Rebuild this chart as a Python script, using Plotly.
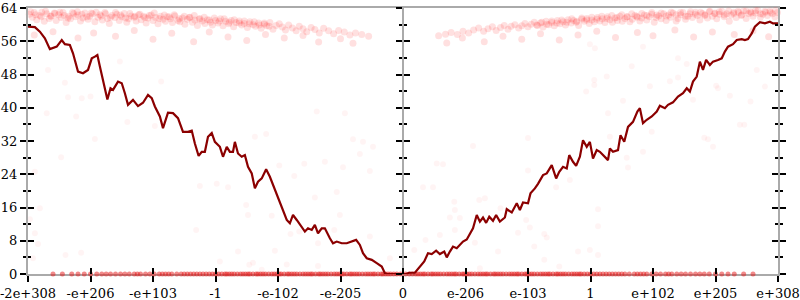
import plotly.graph_objects as go

FONT = "DejaVu Serif"

# x axis tick positions / labels (ordered float-space axis)
tick_vals = list(range(-6, 7))
tick_text = ["-2e+308", "-e+206", "-e+103", "-1", "-e-102", "-e-205", "0",
             "e-206", "e-103", "1", "e+102", "e+205", "e+308"]
y_ticks = [0, 8, 16, 24, 32, 40, 48, 56, 64]

# dark red walk line (x, y)
line_pts = [
    (-6.00, 59.5), (-5.89, 59.4), (-5.81, 58.3), (-5.73, 56.7), (-5.65, 54.1), (-5.60, 54.3),
    (-5.54, 54.7), (-5.46, 56.3), (-5.41, 55.3), (-5.33, 55.1), (-5.28, 53.1), (-5.20, 48.7),
    (-5.12, 48.3), (-5.04, 49.1), (-4.98, 51.9), (-4.93, 52.3), (-4.89, 52.7), (-4.85, 49.9),
    (-4.80, 46.3), (-4.73, 42.0), (-4.68, 44.7), (-4.64, 44.3), (-4.56, 46.3), (-4.50, 45.9),
    (-4.45, 43.5), (-4.40, 40.7), (-4.32, 41.9), (-4.24, 40.4), (-4.16, 41.2), (-4.08, 43.1),
    (-4.02, 42.3), (-3.97, 40.3), (-3.89, 37.9), (-3.84, 35.1), (-3.76, 38.8), (-3.68, 38.7),
    (-3.60, 37.5), (-3.52, 34.2), (-3.44, 34.2), (-3.38, 34.5), (-3.33, 31.4), (-3.27, 28.4),
    (-3.22, 29.4), (-3.17, 29.4), (-3.12, 33.0), (-3.06, 33.9), (-3.01, 31.8), (-2.93, 30.6),
    (-2.88, 28.2), (-2.82, 30.6), (-2.77, 29.4), (-2.72, 29.4), (-2.69, 31.8), (-2.64, 29.0),
    (-2.58, 28.2), (-2.53, 28.6), (-2.48, 25.8), (-2.42, 24.2), (-2.37, 20.6), (-2.32, 22.2),
    (-2.26, 23.0), (-2.19, 25.2), (-2.13, 23.4), (-2.05, 20.2), (-2.00, 18.2), (-1.94, 15.8),
    (-1.86, 13.0), (-1.81, 12.2), (-1.76, 14.2), (-1.70, 13.0), (-1.62, 11.4), (-1.57, 10.2),
    (-1.52, 11.0), (-1.46, 10.6), (-1.41, 11.8), (-1.36, 9.8), (-1.30, 11.0), (-1.25, 11.0),
    (-1.17, 8.6), (-1.12, 7.4), (-1.06, 7.8), (-0.98, 7.4), (-0.90, 7.4), (-0.82, 7.8),
    (-0.75, 8.2), (-0.69, 7.0), (-0.64, 5.0), (-0.58, 3.8), (-0.50, 3.4), (-0.42, 2.6),
    (-0.34, 1.8), (-0.29, 0.2), (-0.26, 0.0), (0.05, 0.0), (0.10, 0.3), (0.19, 0.3),
    (0.27, 1.8), (0.34, 3.0), (0.40, 5.0), (0.46, 4.8), (0.53, 5.6), (0.59, 4.8),
    (0.66, 5.4), (0.70, 4.0), (0.75, 5.4), (0.80, 6.6), (0.86, 6.2), (0.91, 7.0),
    (0.96, 7.8), (1.02, 8.3), (1.07, 9.8), (1.12, 11.0), (1.18, 14.2), (1.23, 12.6),
    (1.28, 13.6), (1.33, 12.3), (1.38, 13.8), (1.44, 12.8), (1.49, 14.2), (1.55, 12.6),
    (1.63, 13.6), (1.66, 15.6), (1.74, 14.8), (1.82, 17.0), (1.87, 15.4), (1.92, 17.2),
    (2.00, 17.0), (2.04, 19.4), (2.11, 20.6), (2.16, 21.7), (2.24, 23.8), (2.30, 24.2),
    (2.38, 26.2), (2.45, 23.0), (2.50, 24.6), (2.56, 25.8), (2.62, 25.4), (2.66, 28.6),
    (2.72, 27.0), (2.77, 26.0), (2.83, 28.2), (2.88, 32.2), (2.94, 30.6), (2.99, 31.8),
    (3.04, 27.8), (3.10, 29.8), (3.15, 29.4), (3.20, 28.6), (3.28, 27.4), (3.31, 30.2),
    (3.36, 29.4), (3.44, 29.8), (3.48, 33.4), (3.54, 31.8), (3.60, 35.4), (3.68, 36.6),
    (3.75, 39.1), (3.79, 39.9), (3.84, 36.3), (3.90, 37.1), (3.98, 37.9), (4.06, 39.1),
    (4.11, 40.5), (4.19, 39.9), (4.24, 40.7), (4.32, 41.3), (4.40, 42.7), (4.48, 43.5),
    (4.54, 44.7), (4.59, 43.9), (4.64, 46.3), (4.70, 47.5), (4.75, 51.1), (4.80, 49.1),
    (4.85, 51.5), (4.91, 50.3), (4.96, 51.1), (5.04, 51.5), (5.10, 51.9), (5.15, 53.5),
    (5.20, 54.7), (5.28, 55.3), (5.34, 56.3), (5.42, 56.5), (5.47, 56.3), (5.52, 56.5),
    (5.58, 57.9), (5.63, 59.5), (5.71, 60.6), (5.79, 60.3), (5.87, 60.7), (5.92, 60.3),
    (6.00, 60.3),
]

# faint dots: dense band near the top (left half)
band_left = [
    (-5.98, 62.5), (-5.93, 61.8), (-5.90, 62.9), (-5.86, 61.2), (-5.81, 62.2), (-5.78, 63.0),
    (-5.74, 60.8), (-5.70, 62.6), (-5.66, 61.5), (-5.63, 62.1), (-5.58, 62.8), (-5.55, 61.0),
    (-5.51, 62.4), (-5.47, 61.7), (-5.44, 62.9), (-5.39, 60.5), (-5.35, 62.0), (-5.32, 61.4),
    (-5.27, 62.7), (-5.24, 61.9), (-5.20, 62.3), (-5.16, 60.9), (-5.12, 61.6), (-5.09, 62.8),
    (-5.04, 61.3), (-5.01, 62.0), (-4.97, 62.6), (-4.93, 60.7), (-4.88, 61.8), (-4.85, 62.4),
    (-4.81, 61.1), (-4.77, 62.9), (-4.73, 61.5), (-4.70, 60.3), (-4.66, 62.2), (-4.61, 61.7),
    (-4.58, 62.5), (-4.54, 61.0), (-4.50, 61.9), (-4.46, 62.7), (-4.42, 60.6), (-4.39, 61.4),
    (-4.35, 62.1), (-4.30, 61.8), (-4.27, 60.9), (-4.23, 62.4), (-4.19, 61.2), (-4.15, 62.0),
    (-4.11, 60.4), (-4.08, 61.6), (-4.03, 62.3), (-4.00, 61.0), (-3.96, 61.7), (-3.92, 60.2),
    (-3.88, 62.0), (-3.84, 61.3), (-3.80, 60.8), (-3.77, 61.9), (-3.72, 61.4), (-3.69, 60.5),
    (-3.65, 62.1), (-3.60, 61.0), (-3.57, 60.7), (-3.53, 61.6), (-3.49, 60.1), (-3.45, 61.3),
    (-3.41, 61.8), (-3.37, 60.6), (-3.33, 61.1), (-3.29, 59.8), (-3.25, 61.5), (-3.21, 60.9),
    (-3.17, 60.3), (-3.13, 61.2), (-3.08, 60.6), (-3.05, 59.9), (-3.00, 61.0), (-2.96, 60.4),
    (-2.92, 61.4), (-2.88, 59.7), (-2.84, 60.8), (-2.79, 60.2), (-2.75, 61.0), (-2.71, 59.5),
    (-2.67, 60.5), (-2.62, 60.9), (-2.58, 59.9), (-2.54, 60.3), (-2.49, 59.3), (-2.45, 60.7),
    (-2.40, 60.0), (-2.36, 59.6), (-2.31, 60.4), (-2.27, 59.1), (-2.22, 60.1), (-2.18, 59.7),
    (-2.13, 60.5), (-2.08, 58.9), (-2.03, 59.8), (-1.98, 60.2), (-1.93, 59.4), (-1.88, 58.7),
    (-1.83, 59.9), (-1.77, 59.2), (-1.71, 58.5), (-1.66, 59.6), (-1.60, 59.0), (-1.54, 58.3),
    (-1.47, 59.3), (-1.41, 58.8), (-1.34, 58.0), (-1.27, 59.1), (-1.19, 58.5), (-1.11, 57.8),
    (-1.03, 58.6), (-0.94, 58.2), (-0.85, 57.5), (-0.76, 58.0), (-0.66, 57.6), (-0.55, 57.2),
    (-5.96, 63.1), (-5.88, 62.4), (-5.79, 61.9), (-5.72, 63.2), (-5.64, 62.0), (-5.57, 62.7),
    (-5.49, 63.0), (-5.42, 62.2), (-5.36, 61.6), (-5.29, 62.9), (-5.21, 63.1), (-5.14, 62.5),
    (-5.06, 61.9), (-4.99, 62.8), (-4.91, 63.0), (-4.83, 62.1), (-4.76, 62.6), (-4.68, 61.8),
    (-4.60, 62.9), (-4.52, 62.3), (-4.44, 61.6), (-4.37, 62.7), (-4.29, 62.0), (-4.21, 62.5),
    (-4.13, 61.7), (-4.06, 62.2), (-3.98, 62.8), (-3.90, 61.5), (-3.82, 62.3), (-3.74, 61.9),
    (-3.66, 62.4), (-3.58, 61.4), (-3.50, 62.0), (-3.42, 61.7), (-3.34, 62.2), (-3.26, 61.3),
    (-3.18, 61.8), (-3.10, 61.1), (-3.02, 61.6), (-2.94, 60.9), (-2.86, 61.4), (-2.78, 60.6),
    (-2.70, 61.2), (-2.62, 60.4), (-2.54, 60.9), (-2.46, 60.2), (-2.38, 60.7), (-2.30, 59.9),
    (-2.22, 60.4), (-2.14, 59.6),
    (-5.90, 57.5), (-5.60, 58.3), (-5.20, 56.8), (-4.95, 58.0), (-4.60, 57.2), (-4.30, 58.6),
    (-4.00, 56.5), (-3.70, 57.9), (-3.35, 55.9), (-3.10, 58.2), (-2.80, 57.0), (-2.50, 56.2),
    (-2.20, 57.6), (-1.90, 56.8), (-1.60, 57.4), (-1.35, 55.8), (-1.00, 56.6), (-0.80, 55.5),
]

# faint dots: dense band near the top (right half)
band_right = [
    (0.57, 57.3), (0.68, 57.7), (0.77, 58.1), (0.87, 57.6), (0.96, 58.4), (1.05, 58.0),
    (1.13, 58.7), (1.21, 59.2), (1.29, 58.4), (1.36, 59.0), (1.43, 59.5), (1.49, 58.6),
    (1.56, 59.3), (1.62, 59.8), (1.68, 58.9), (1.73, 59.6), (1.79, 60.0), (1.85, 59.2),
    (1.90, 59.7), (1.95, 60.3), (2.00, 59.5), (2.05, 60.1), (2.10, 60.6), (2.15, 59.8),
    (2.20, 60.4), (2.24, 59.4), (2.29, 60.8), (2.33, 60.0), (2.38, 60.5), (2.42, 59.7),
    (2.47, 61.0), (2.51, 60.2), (2.56, 60.7), (2.60, 59.9), (2.64, 61.2), (2.69, 60.4),
    (2.73, 61.0), (2.77, 60.6), (2.81, 59.8), (2.86, 61.3), (2.90, 60.8), (2.94, 61.5),
    (2.98, 60.3), (3.02, 61.1), (3.06, 60.7), (3.11, 61.7), (3.15, 60.9), (3.19, 61.4),
    (3.23, 60.5), (3.27, 61.9), (3.31, 61.2), (3.35, 60.6), (3.39, 61.6), (3.43, 61.0),
    (3.47, 62.0), (3.51, 60.8), (3.55, 61.5), (3.59, 61.9), (3.63, 60.7), (3.67, 61.3),
    (3.71, 62.2), (3.75, 61.8), (3.79, 60.9), (3.82, 61.6), (3.86, 62.3), (3.90, 61.1),
    (3.94, 61.9), (3.98, 62.5), (4.02, 60.6), (4.05, 61.7), (4.09, 62.1), (4.13, 61.4),
    (4.17, 62.6), (4.21, 61.0), (4.25, 62.3), (4.28, 61.8), (4.32, 62.8), (4.37, 60.9),
    (4.40, 61.5), (4.44, 62.4), (4.48, 62.9), (4.52, 61.3), (4.56, 62.0), (4.59, 62.6),
    (4.63, 61.7), (4.68, 63.0), (4.71, 62.2), (4.75, 61.1), (4.79, 62.7), (4.83, 62.4),
    (4.87, 61.6), (4.90, 63.1), (4.95, 62.0), (4.99, 62.8), (5.02, 61.4), (5.06, 62.5),
    (5.10, 63.2), (5.14, 61.9), (5.18, 62.6), (5.22, 60.8), (5.25, 62.3), (5.29, 63.0),
    (5.33, 61.7), (5.37, 62.9), (5.41, 62.2), (5.45, 63.3), (5.49, 61.5), (5.53, 62.7),
    (5.56, 63.1), (5.60, 62.0), (5.64, 62.8), (5.68, 63.4), (5.72, 61.8), (5.76, 62.5),
    (5.80, 63.0), (5.83, 62.2), (5.87, 63.3), (5.91, 62.6), (5.95, 61.9), (5.99, 62.9),
    (2.14, 59.9), (2.22, 60.6), (2.30, 60.1), (2.38, 60.9), (2.46, 60.4), (2.54, 61.1),
    (2.62, 60.6), (2.70, 61.4), (2.78, 60.8), (2.86, 61.6), (2.94, 61.1), (3.02, 61.8),
    (3.10, 61.3), (3.18, 62.0), (3.26, 61.5), (3.34, 62.2), (3.42, 61.7), (3.50, 62.4),
    (3.58, 61.9), (3.66, 62.6), (3.74, 62.0), (3.82, 62.7), (3.90, 62.2), (3.98, 62.9),
    (4.06, 62.3), (4.13, 62.8), (4.21, 62.1), (4.29, 63.0), (4.37, 62.4), (4.44, 62.9),
    (4.52, 62.0), (4.60, 63.1), (4.68, 62.5), (4.76, 63.0), (4.83, 62.2), (4.91, 63.2),
    (4.99, 62.6), (5.06, 63.1), (5.14, 62.3), (5.21, 63.3), (5.29, 62.7), (5.36, 63.2),
    (5.42, 62.4), (5.49, 63.3), (5.57, 62.8), (5.64, 63.4), (5.72, 62.6), (5.79, 63.2),
    (5.88, 62.9), (5.96, 63.4),
    (0.70, 55.6), (0.95, 56.8), (1.30, 55.9), (1.60, 57.2), (1.90, 56.5), (2.20, 57.8),
    (2.50, 56.3), (2.80, 57.5), (3.10, 58.4), (3.40, 56.9), (3.75, 58.1), (4.00, 57.3),
    (4.35, 58.7), (4.65, 57.0), (4.95, 58.2), (5.30, 57.6), (5.60, 58.5), (5.85, 57.1),
]

# faint dots scattered over the plot
sparse_pts = [
    (-5.70, 38.7), (-5.23, 37.9), (-4.93, 32.5), (-5.47, 28.1), (-5.89, 24.6), (-5.81, 15.8),
    (-5.97, 13.2), (-5.89, 9.8), (-5.84, 7.2), (-5.40, 4.6), (-5.15, 5.1), (-5.92, 3.8),
    (-5.68, 49.1), (-5.41, 46.0), (-5.36, 42.5), (-5.14, 42.3), (-5.00, 42.7), (-4.53, 51.1),
    (-4.41, 36.6), (-3.87, 46.3), (-3.97, 35.6), (-1.38, 39.1), (-0.93, 38.7), (-2.37, 33.0),
    (-2.19, 33.7), (-0.80, 32.4), (-0.64, 31.8), (-0.48, 30.6), (-0.69, 28.9), (-1.25, 27.0),
    (-1.58, 26.5), (-1.98, 26.1), (-0.96, 25.7), (-0.53, 24.8), (-1.74, 23.6), (-2.98, 21.7),
    (-2.80, 20.9), (-3.25, 21.2), (-1.41, 18.4), (-1.06, 19.7), (-2.51, 16.6), (-2.48, 14.2),
    (-2.10, 14.0), (-1.01, 14.2), (-3.31, 10.6), (-1.80, 9.6), (-1.66, 10.2), (-1.10, 10.6),
    (-0.53, 9.0), (-1.36, 7.4), (-2.64, 5.4), (-2.05, 5.6), (-2.93, 3.0), (-2.46, 2.2),
    (-2.40, 2.7), (-1.86, 2.3), (-1.36, 1.9), (-0.21, 3.8), (-2.26, 1.0),
    (1.12, 30.8), (0.54, 26.6), (0.64, 26.4), (2.00, 32.7), (2.00, 24.9), (0.32, 20.9),
    (0.48, 20.9), (1.22, 17.8), (1.31, 18.2), (0.82, 17.4), (0.83, 15.4), (0.75, 13.6),
    (0.91, 13.5), (1.56, 15.8), (1.97, 13.0), (2.03, 11.2), (2.67, 22.6), (2.45, 20.9),
    (3.12, 15.6), (3.12, 11.5), (0.83, 10.6), (0.59, 9.4), (0.36, 8.2), (1.84, 9.9),
    (2.26, 9.6), (2.30, 8.8), (1.15, 7.5), (2.10, 6.6), (0.18, 5.8), (1.52, 5.4),
    (2.99, 5.8), (2.80, 5.4), (3.12, 4.6), (2.26, 3.4), (2.50, 1.8), (1.23, 1.4),
    (2.99, 55.3), (3.07, 54.3), (3.84, 54.7), (4.40, 51.9), (4.54, 50.5), (3.66, 50.0),
    (5.66, 49.1), (3.26, 47.5), (4.40, 47.3), (3.06, 46.7), (3.06, 45.5), (3.95, 45.2),
    (5.01, 45.3), (5.04, 44.7), (5.79, 45.1), (4.27, 46.4), (5.23, 42.9), (4.64, 41.9),
    (5.56, 41.5), (3.52, 41.7), (2.93, 43.9), (3.28, 38.7), (5.39, 35.9), (5.46, 35.9),
    (3.98, 34.2), (3.31, 33.0), (4.82, 32.8), (4.88, 32.4), (4.96, 30.6), (3.84, 29.4),
    (3.58, 28.0), (3.60, 25.6),
]

# faint dots lying on zero (x positions)
zero_x = [
    -5.6, -5.3, -5.1, -4.9, -4.75, -4.6, -4.45, -4.3, -4.2, -4.05, -3.9, -3.8, -3.7, -3.55,
    -3.45, -3.35, -3.25, -3.15, -3.05, -2.95, -2.85, -2.78, -2.7, -2.6, -2.52, -2.45, -2.35,
    -2.28, -2.2, -2.1, -2.02, -1.95, -1.85, -1.78, -1.7, -1.6, -1.52, -1.45, -1.35, -1.28,
    -1.2, -1.1, -1.02, -0.95, -0.85, -0.78, -0.7, -0.6, -0.52, -0.45, -0.35, -0.28, -0.2,
    -0.1, -0.04, 0.04, 0.1, 0.2, 0.28, 0.35, 0.45, 0.52, 0.6, 0.7, 0.78, 0.85, 0.95, 1.02,
    1.1, 1.2, 1.28, 1.35, 1.45, 1.52, 1.6, 1.7, 1.78, 1.85, 1.95, 2.02, 2.1, 2.2, 2.28,
    2.35, 2.45, 2.52, 2.6, 2.7, 2.78, 2.85, 2.95, 3.05, 3.15, 3.25, 3.35, 3.45, 3.55, 3.7,
    3.8, 3.9, 4.05, 4.2, 4.3, 4.45, 4.6, 4.75, 4.9, 5.1, 5.3, 5.6,
    -5.45, -5.2, -5.0, -4.82, -4.68, -4.52, -4.38, -4.25, -4.12, -3.98, -3.85, -3.75, -3.62,
    -3.5, -3.4, -3.3, -3.2, -3.1, -3.0, -2.9, -2.82, -2.74, -2.65, -2.56, -2.48, -2.4, -2.32,
    -2.24, -2.15, -2.06, -1.98, -1.9, -1.82, -1.74, -1.65, -1.56, -1.48, -1.4, -1.32, -1.24,
    -1.15, -1.06, -0.98, -0.9, -0.82, -0.74, -0.65, -0.56, -0.48, -0.4, -0.32, -0.24, -0.15,
    0.15, 0.24, 0.32, 0.4, 0.48, 0.56, 0.65, 0.74, 0.82, 0.9, 0.98, 1.06, 1.15, 1.24, 1.32,
    1.4, 1.48, 1.56, 1.65, 1.74, 1.82, 1.9, 1.98, 2.06, 2.15, 2.24, 2.32, 2.4, 2.48, 2.56,
    2.65, 2.74, 2.82, 2.9, 3.0, 3.1, 3.2, 3.3, 3.4, 3.5, 3.62, 3.75, 3.85, 3.98, 4.12, 4.25,
    4.38, 4.52, 4.68, 4.82, 5.0, 5.2, 5.45,
]

fig = go.Figure()


def add_dots(pairs, color, size=6):
    fig.add_trace(go.Scatter(
        x=[p[0] for p in pairs], y=[p[1] for p in pairs], mode="markers",
        marker=dict(size=size, color=color, line=dict(width=0)),
        cliponaxis=False, hoverinfo="skip", showlegend=False))


add_dots(sparse_pts, "rgba(255,0,0,0.045)")
add_dots(band_left, "rgba(255,0,0,0.12)", 7)
add_dots(band_right, "rgba(255,0,0,0.12)", 7)
add_dots([(x, 0) for x in zero_x], "rgba(230,20,20,0.5)", 5)

fig.add_trace(go.Scatter(
    x=[p[0] for p in line_pts], y=[p[1] for p in line_pts], mode="lines",
    line=dict(color="#8b0000", width=2.2), hoverinfo="skip", showlegend=False))

# empty traces that register the extra tick axes
for xa, ya in [("x2", "y"), ("x", "y2"), ("x", "y3"), ("x", "y4")]:
    fig.add_trace(go.Scatter(x=[None], y=[None], xaxis=xa, yaxis=ya,
                             showlegend=False, hoverinfo="skip"))

tickfont = dict(family=FONT, size=13, color="black")
GRAY = "#aaaaaa"
common_y = dict(range=[0, 64], tickvals=y_ticks, showgrid=False, zeroline=False,
                tickcolor="black", tickwidth=1.5, ticklen=6, automargin=False)

fig.update_layout(
    width=800, height=300,
    margin=dict(l=28, r=22, t=8, b=26),
    paper_bgcolor="white", plot_bgcolor="white",
    xaxis=dict(range=[-6, 6], tickvals=tick_vals, ticktext=tick_text,
               ticks="outside", ticklen=6, tickwidth=1.5, tickcolor="black",
               showline=True, linecolor=GRAY, linewidth=2, mirror=True,
               showgrid=False, zeroline=False, tickfont=tickfont,
               layer="below traces", automargin=False, ticklabeloverflow="allow"),
    xaxis2=dict(range=[-6, 6], tickvals=tick_vals, overlaying="x", anchor="y",
                ticks="inside", ticklen=6, tickwidth=1.5, tickcolor="black",
                showticklabels=False, showline=False, showgrid=False, zeroline=False,
                automargin=False),
    yaxis=dict(**common_y, ticks="outside", showline=True, linecolor=GRAY,
               linewidth=2, mirror="ticks", tickfont=tickfont,
               ticklabeloverflow="allow",
               minor=dict(ticks="outside", ticklen=3, dtick=4, tick0=0,
                          tickcolor="black", tickwidth=1.5, showgrid=False)),
    yaxis2=dict(**common_y, overlaying="y", ticks="inside", mirror="ticks",
                showline=False, showticklabels=False,
                minor=dict(ticks="inside", ticklen=3, dtick=4, tick0=0,
                           tickcolor="black", tickwidth=1.5, showgrid=False)),
    yaxis3=dict(**common_y, overlaying="y", anchor="free", position=0.5,
                ticks="outside", showline=True, linecolor=GRAY, linewidth=2,
                showticklabels=False,
                minor=dict(ticks="outside", ticklen=3, dtick=4, tick0=0,
                           tickcolor="black", tickwidth=1.5, showgrid=False)),
    yaxis4=dict(**common_y, overlaying="y", anchor="free", position=0.5,
                ticks="inside", showline=False, showticklabels=False,
                minor=dict(ticks="inside", ticklen=3, dtick=4, tick0=0,
                           tickcolor="black", tickwidth=1.5, showgrid=False)),
)

fig.write_html("out.html")
